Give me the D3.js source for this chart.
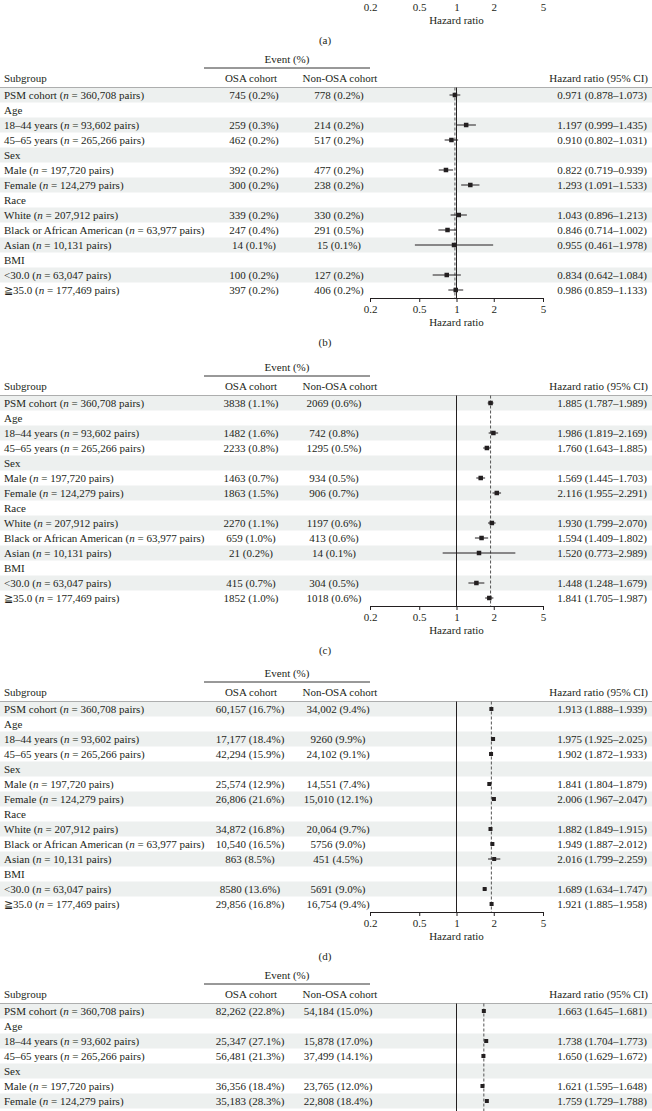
<!DOCTYPE html>
<html><head><meta charset="utf-8">
<script src="https://cdn.jsdelivr.net/npm/d3@7/dist/d3.min.js"></script>
<style>
html,body{margin:0;padding:0;background:#fff;}
svg{display:block;}
text{font-family:"Liberation Serif","Times New Roman",serif;fill:#231f20;}
</style></head><body>
<svg id="chart" width="652" height="1111"></svg>
<script>
// ---------- shared labels ----------
const subgroupLabels = ["PSM cohort","Age","18–44 years","45–65 years","Sex","Male","Female","Race","White","Black or African American","Asian","BMI","<30.0","≧35.0"];
const subgroupPairs  = ["360,708",null,"93,602","265,266",null,"197,720","124,279",null,"207,912","63,977","10,131",null,"63,047","177,469"];
const tickValues = [0.2, 0.5, 1, 2, 5];
const tickLabels = ["0.2", "0.5", "1", "2", "5"];
const panelLabels = ["(a)", "(b)", "(c)", "(d)", "(e)"];
const headerLabels = ["Subgroup", "OSA cohort", "Non-OSA cohort", "Hazard ratio (95% CI)"];

// ---------- panel (b) ----------
const bOsa = ["745 (0.2%)",null,"259 (0.3%)","462 (0.2%)",null,"392 (0.2%)","300 (0.2%)",null,"339 (0.2%)","247 (0.4%)","14 (0.1%)",null,"100 (0.2%)","397 (0.2%)"];
const bNon = ["778 (0.2%)",null,"214 (0.2%)","517 (0.2%)",null,"477 (0.2%)","238 (0.2%)",null,"330 (0.2%)","291 (0.5%)","15 (0.1%)",null,"127 (0.2%)","406 (0.2%)"];
const bHR  = [0.971,null,1.197,0.910,null,0.822,1.293,null,1.043,0.846,0.955,null,0.834,0.986];
const bLo  = [0.878,null,0.999,0.802,null,0.719,1.091,null,0.896,0.714,0.461,null,0.642,0.859];
const bHi  = [1.073,null,1.435,1.031,null,0.939,1.533,null,1.213,1.002,1.978,null,1.084,1.133];

// ---------- panel (c) ----------
const cOsa = ["3838 (1.1%)",null,"1482 (1.6%)","2233 (0.8%)",null,"1463 (0.7%)","1863 (1.5%)",null,"2270 (1.1%)","659 (1.0%)","21 (0.2%)",null,"415 (0.7%)","1852 (1.0%)"];
const cNon = ["2069 (0.6%)",null,"742 (0.8%)","1295 (0.5%)",null,"934 (0.5%)","906 (0.7%)",null,"1197 (0.6%)","413 (0.6%)","14 (0.1%)",null,"304 (0.5%)","1018 (0.6%)"];
const cHR  = [1.885,null,1.986,1.760,null,1.569,2.116,null,1.930,1.594,1.520,null,1.448,1.841];
const cLo  = [1.787,null,1.819,1.643,null,1.445,1.955,null,1.799,1.409,0.773,null,1.248,1.705];
const cHi  = [1.989,null,2.169,1.885,null,1.703,2.291,null,2.070,1.802,2.989,null,1.679,1.987];

// ---------- panel (d) ----------
const dOsa = ["60,157 (16.7%)",null,"17,177 (18.4%)","42,294 (15.9%)",null,"25,574 (12.9%)","26,806 (21.6%)",null,"34,872 (16.8%)","10,540 (16.5%)","863 (8.5%)",null,"8580 (13.6%)","29,856 (16.8%)"];
const dNon = ["34,002 (9.4%)",null,"9260 (9.9%)","24,102 (9.1%)",null,"14,551 (7.4%)","15,010 (12.1%)",null,"20,064 (9.7%)","5756 (9.0%)","451 (4.5%)",null,"5691 (9.0%)","16,754 (9.4%)"];
const dHR  = [1.913,null,1.975,1.902,null,1.841,2.006,null,1.882,1.949,2.016,null,1.689,1.921];
const dLo  = [1.888,null,1.925,1.872,null,1.804,1.967,null,1.849,1.887,1.799,null,1.634,1.885];
const dHi  = [1.939,null,2.025,1.933,null,1.879,2.047,null,1.915,2.012,2.259,null,1.747,1.958];

// ---------- panel (e) (only the visible rows) ----------
const eOsa = ["82,262 (22.8%)",null,"25,347 (27.1%)","56,481 (21.3%)",null,"36,356 (18.4%)","35,183 (28.3%)"];
const eNon = ["54,184 (15.0%)",null,"15,878 (17.0%)","37,499 (14.1%)",null,"23,765 (12.0%)","22,808 (18.4%)"];
const eHR  = [1.663,null,1.738,1.650,null,1.621,1.759];
const eLo  = [1.645,null,1.704,1.629,null,1.595,1.729];
const eHi  = [1.681,null,1.773,1.672,null,1.648,1.788];

// ---------- layout ----------
const W = 652, H = 1111;
const rowH = 15;
const FS = 11;
const ink = "#231f20";
const svg = d3.select("#chart");
const x = d3.scaleLog().domain([0.2, 5]).range([370, 543]);
const fmt = d3.format(".3f");

const panels = [
  {label: panelLabels[0], p0: -207, data: null},
  {label: panelLabels[1], p0: 95,  data: {osa: bOsa, non: bNon, hr: bHR, lo: bLo, hi: bHi}, osaX: 254, nonX: 339, mk: 4.5},
  {label: panelLabels[2], p0: 403, data: {osa: cOsa, non: cNon, hr: cHR, lo: cLo, hi: cHi}, osaX: 251, nonX: 334, mk: 4.5},
  {label: panelLabels[3], p0: 709, data: {osa: dOsa, non: dNon, hr: dHR, lo: dLo, hi: dHi}, osaX: 250, nonX: 338, mk: 4},
  {label: panelLabels[4], p0: 1011, data: {osa: eOsa, non: eNon, hr: eHR, lo: eLo, hi: eHi}, osaX: 250, nonX: 338, mk: 4}
];

function txt(g, s, xx, yy, anchor) {
  return g.append("text").attr("x", xx).attr("y", yy).attr("dy", "0.35em")
    .attr("text-anchor", anchor || "start").attr("font-size", FS).text(s);
}

panels.forEach(P => {
  const g = svg.append("g");
  const p0 = P.p0;
  const nRows = subgroupLabels.length;
  const axisY = p0 + (nRows - 1) * rowH + 8;
  const top = p0 - rowH / 2;

  if (P.data) {
    const D = P.data;
    const nVis = D.osa.length;
    // shaded bands
    for (let i = 0; i < nVis; i += 2) {
      g.append("rect").attr("x", 0).attr("width", W)
        .attr("y", p0 + i * rowH - rowH / 2).attr("height", rowH).attr("fill", "#edf0ef");
    }
    // header
    txt(g, "Event (%)", 287, p0 - 36, "middle");
    g.append("line").attr("x1", 204).attr("x2", 370).attr("y1", p0 - 27).attr("y2", p0 - 27)
      .attr("stroke", "#333").attr("stroke-width", 1);
    txt(g, headerLabels[0], 4, p0 - 17);
    txt(g, headerLabels[1], 251, p0 - 17, "middle");
    txt(g, headerLabels[2], 340, p0 - 17, "middle");
    txt(g, headerLabels[3], 648, p0 - 17, "end");
    g.append("line").attr("x1", 0).attr("x2", W).attr("y1", top).attr("y2", top)
      .attr("stroke", "#9a9a9a").attr("stroke-width", 0.8);

    // rows
    for (let i = 0; i < nVis; i++) {
      const y = p0 + i * rowH;
      const t = g.append("text").attr("x", 4).attr("y", y).attr("dy", "0.35em").attr("font-size", FS);
      t.append("tspan").text(subgroupLabels[i]);
      if (subgroupPairs[i]) {
        t.append("tspan").text(" (");
        t.append("tspan").attr("font-style", "italic").text("n");
        t.append("tspan").text(" = " + subgroupPairs[i] + " pairs)");
      }
      if (D.osa[i]) txt(g, D.osa[i], P.osaX, y, "middle");
      if (D.non[i]) txt(g, D.non[i], P.nonX, y, "middle");
      if (D.hr[i] != null) txt(g, fmt(D.hr[i]) + " (" + fmt(D.lo[i]) + "–" + fmt(D.hi[i]) + ")", 647, y, "end");
    }

    // reference lines (run down to the axis, or to the page bottom when the axis is off the page)
    const lineEnd = Math.min(axisY, H);
    g.append("line").attr("x1", x(1)).attr("x2", x(1)).attr("y1", top).attr("y2", lineEnd)
      .attr("stroke", ink).attr("stroke-width", 1);
    g.append("line").attr("x1", x(D.hr[0])).attr("x2", x(D.hr[0])).attr("y1", top).attr("y2", lineEnd)
      .attr("stroke", "#555").attr("stroke-width", 1).attr("stroke-dasharray", "3,2");

    // CIs and markers
    for (let i = 0; i < nVis; i++) {
      if (D.hr[i] == null) continue;
      const y = p0 + i * rowH;
      g.append("line").attr("x1", x(D.lo[i])).attr("x2", x(D.hi[i])).attr("y1", y).attr("y2", y)
        .attr("stroke", ink).attr("stroke-width", 1);
      g.append("rect").attr("x", x(D.hr[i]) - P.mk / 2).attr("y", y - P.mk / 2)
        .attr("width", P.mk).attr("height", P.mk).attr("fill", ink);
    }
  }

  // axis, axis title and panel label (only when they fall on the page)
  if (axisY < H) {
    const ax = g.append("g").attr("transform", `translate(0,${axisY})`)
      .call(d3.axisBottom(x).tickValues(tickValues).tickFormat((d, i) => tickLabels[i]).tickSize(4).tickPadding(3));
    ax.attr("font-family", null).attr("font-size", null);
    ax.selectAll("path,line").attr("stroke", ink);
    ax.selectAll("text").attr("font-size", FS).attr("fill", ink);
    txt(g, "Hazard ratio", x(1), axisY + 24, "middle");
    txt(g, P.label, 325, axisY + 44, "middle");
  }
});
</script>
</body></html>
